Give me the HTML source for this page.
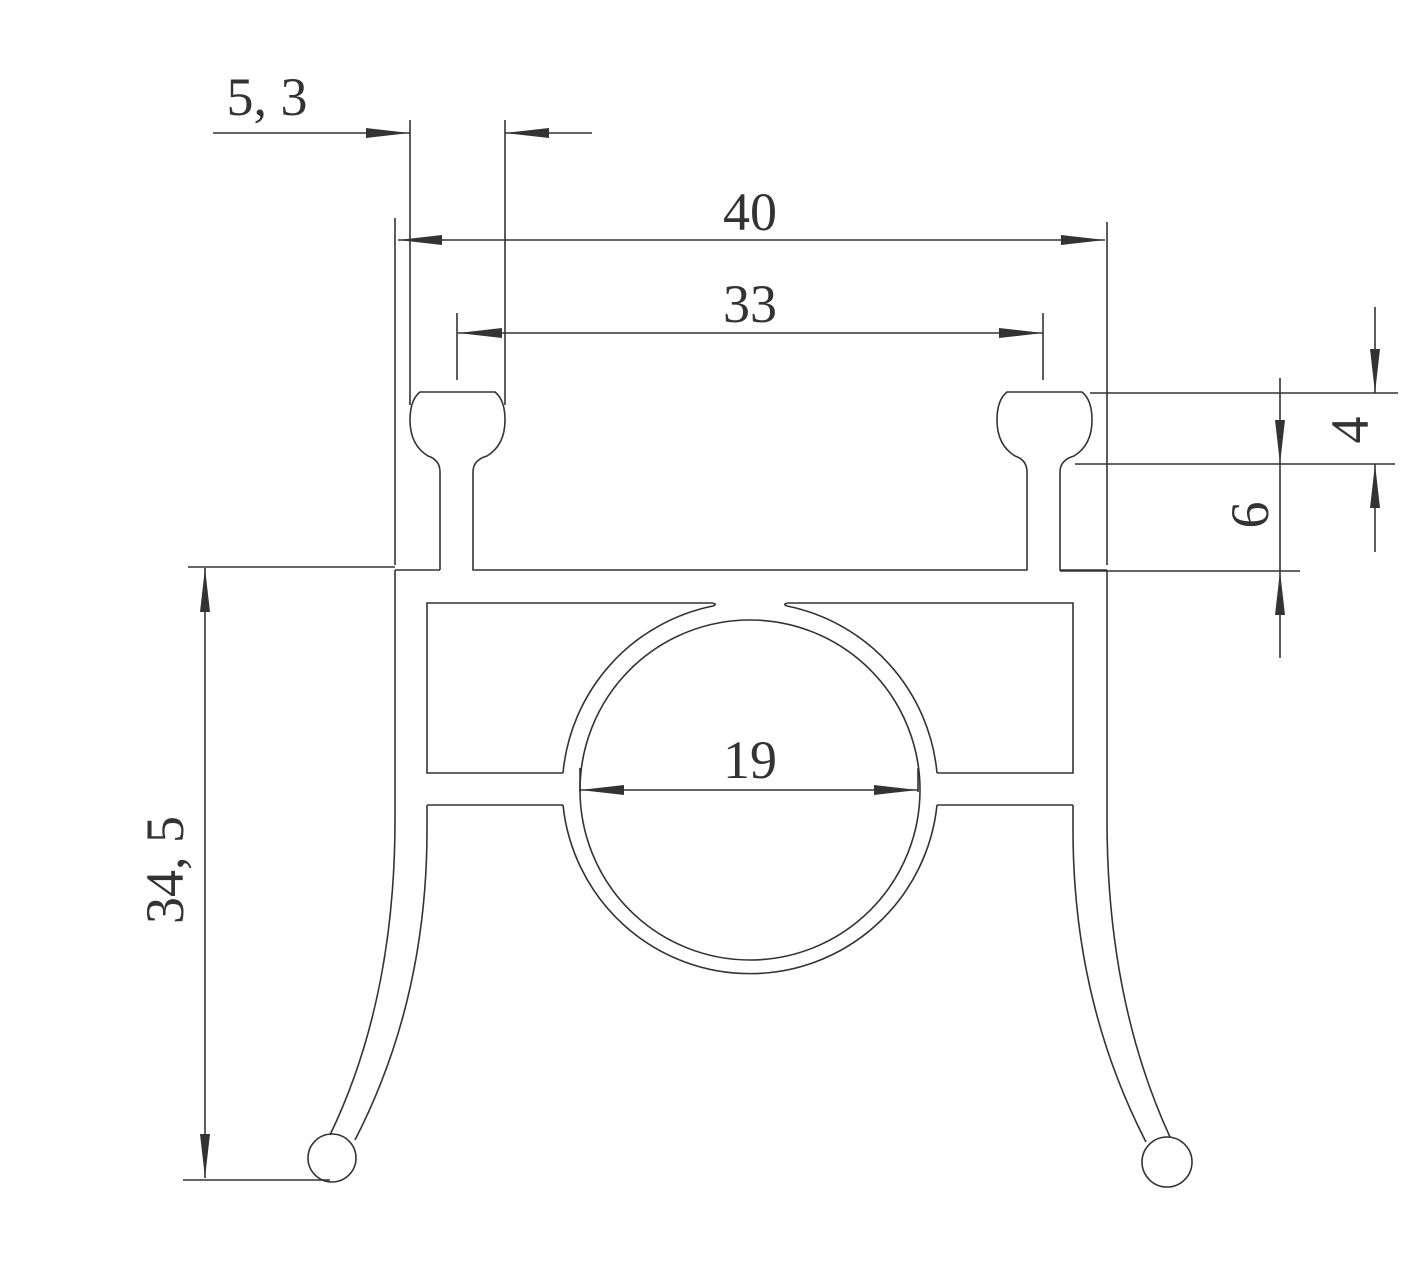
<!DOCTYPE html>
<html><head><meta charset="utf-8"><style>
html,body{margin:0;padding:0;background:#fff;}
svg{display:block;}
text{font-family:"Liberation Serif",serif;fill:#333;}
</style></head><body>
<svg width="1428" height="1269" viewBox="0 0 1428 1269" xmlns="http://www.w3.org/2000/svg">
<g stroke="#333" stroke-width="1.6" fill="none">
<line x1="213" y1="133" x2="410" y2="133"/>
<line x1="505" y1="133" x2="592" y2="133"/>
<line x1="410" y1="120" x2="410" y2="405"/>
<line x1="505" y1="120" x2="505" y2="405"/>
<line x1="398" y1="240" x2="1105" y2="240"/>
<line x1="395" y1="218" x2="395" y2="565"/>
<line x1="1107" y1="222" x2="1107" y2="565"/>
<line x1="458" y1="333" x2="1043" y2="333"/>
<line x1="457" y1="313" x2="457" y2="380"/>
<line x1="1043" y1="313" x2="1043" y2="380"/>
<line x1="1090" y1="393" x2="1398" y2="393"/>
<line x1="1075" y1="464" x2="1395" y2="464"/>
<line x1="1060" y1="571" x2="1300" y2="571"/>
<line x1="1375" y1="307" x2="1375" y2="393"/>
<line x1="1375" y1="464" x2="1375" y2="552"/>
<line x1="1280" y1="378" x2="1280" y2="658"/>
<line x1="188" y1="567" x2="395" y2="567"/>
<line x1="183" y1="1180" x2="330" y2="1180"/>
<line x1="205" y1="568" x2="205" y2="1178"/>
<line x1="580" y1="790" x2="918" y2="790"/>
<line x1="580" y1="768" x2="580" y2="792"/>
<line x1="918" y1="768" x2="918" y2="792"/>

<path d="M440,570 V472 Q440,460 428,456 Q410,445 410,420 Q410,400 420,392 H495 Q505,400 505,420 Q505,445 487,456 Q473,460 473,472 V570 H1027 V472 Q1027,460 1015,456 Q997,445 997,420 Q997,400 1007,392 H1082 Q1092,400 1092,420 Q1092,445 1074,456 Q1060,460 1060,472 V570 H1107"/>
<line x1="395" y1="570" x2="440" y2="570"/>
<path d="M395,570 V820 Q395,1000 330,1135"/>
<path d="M427,805 V830 Q427,1000 355,1140"/>
<circle cx="332" cy="1158" r="24"/>
<path d="M1107,570 V820 Q1107,1000 1170,1137"/>
<path d="M1073,805 V830 Q1073,1000 1146,1142"/>
<circle cx="1167" cy="1162" r="25"/>
<path d="M712,603 H427 V773 H563"/>
<path d="M788,603 H1073 V773 H937"/>
<path d="M427,805 H563"/>
<path d="M937,805 H1073"/>
<path d="M712,603 Q718,604 713,606 A188,188 0 0 0 563,773"/>
<path d="M788,603 Q782,604 787,606 A188,188 0 0 1 937,773"/>
<path d="M563,805 A188,188 0 0 0 937,805"/>
<circle cx="750" cy="790" r="170"/>
</g>
<g fill="#333">
<polygon points="410,133 366,128 366,138"/>
<polygon points="505,133 549,128 549,138"/>
<polygon points="398,240 442,235 442,245"/>
<polygon points="1105,240 1061,235 1061,245"/>
<polygon points="458,333 502,328 502,338"/>
<polygon points="1043,333 999,328 999,338"/>
<polygon points="1375,393 1370,349 1380,349"/>
<polygon points="1375,464 1370,508 1380,508"/>
<polygon points="1280,464 1275,420 1285,420"/>
<polygon points="1280,571 1275,615 1285,615"/>
<polygon points="205,568 200,612 210,612"/>
<polygon points="205,1178 200,1134 210,1134"/>
<polygon points="580,790 624,785 624,795"/>
<polygon points="918,790 874,785 874,795"/>
</g>
<g font-size="54">
<text x="267" y="115" text-anchor="middle">5, 3</text>
<text x="750" y="230" text-anchor="middle">40</text>
<text x="750" y="322" text-anchor="middle">33</text>
<text x="750" y="778" text-anchor="middle">19</text>
<text transform="translate(183,870) rotate(-90)" text-anchor="middle">34, 5</text>
<text transform="translate(1368,430) rotate(-90)" text-anchor="middle">4</text>
<text transform="translate(1268,515) rotate(-90)" text-anchor="middle">6</text>
</g>
</svg>
</body></html>
